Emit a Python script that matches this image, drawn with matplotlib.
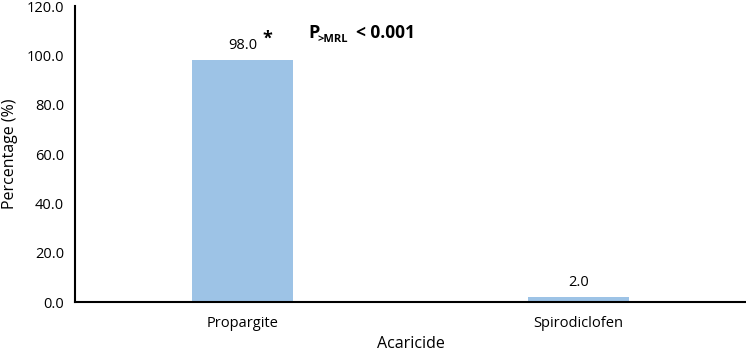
import matplotlib.pyplot as plt
import numpy as np

plt.rcParams['font.family'] = ['Open Sans', 'DejaVu Sans']

# data
acaricides = ["Propargite", "Spirodiclofen"]
percentages = [98.0, 2.0]
yticks = [0, 20, 40, 60, 80, 100, 120]

fig = plt.figure(figsize=(7.46, 3.56), dpi=100)
ax = fig.add_axes([75/746, 1 - 302/356, 671/746, 296/356])

x = np.arange(len(acaricides))
ax.bar(x, percentages, width=0.3, color="#9DC3E6")

for xi, v in zip(x, percentages):
    ax.text(xi, v + 3, f"{v:.1f}", ha="center", va="bottom", fontsize=10.5)

# asterisk next to the significant value
ax.text(x[0] + 0.058, percentages[0] + 12.5, "*", ha="left", va="top",
        fontsize=13, fontweight="bold")

# P>MRL < 0.001
ax.text(0.195, 107, "P", ha="left", va="baseline", fontsize=13,
        fontweight="bold")
ax.text(0.222, 105.3, ">MRL", ha="left", va="baseline", fontsize=8,
        fontweight="bold")
ax.text(0.338, 107, "< 0.001", ha="left", va="baseline", fontsize=12.5,
        fontweight="bold")

ax.set_xlim(-0.5, 1.5)
ax.set_ylim(0, 120)
ax.set_xticks(x)
ax.set_xticklabels(acaricides, fontsize=10.5)
ax.set_yticks(yticks)
ax.set_yticklabels([f"{t:.1f}" for t in yticks], fontsize=10.5)
ax.tick_params(length=0, pad=8)
ax.tick_params(axis="x", pad=10)

ax.spines["top"].set_visible(False)
ax.spines["right"].set_visible(False)
ax.spines["left"].set_linewidth(1.5)
ax.spines["bottom"].set_linewidth(1.5)

ax.set_xlabel("Acaricide", fontsize=11.5, labelpad=4)
ax.set_ylabel("Percentage (%)", fontsize=11.5, labelpad=6)

fig.savefig("out.png", dpi=100)
